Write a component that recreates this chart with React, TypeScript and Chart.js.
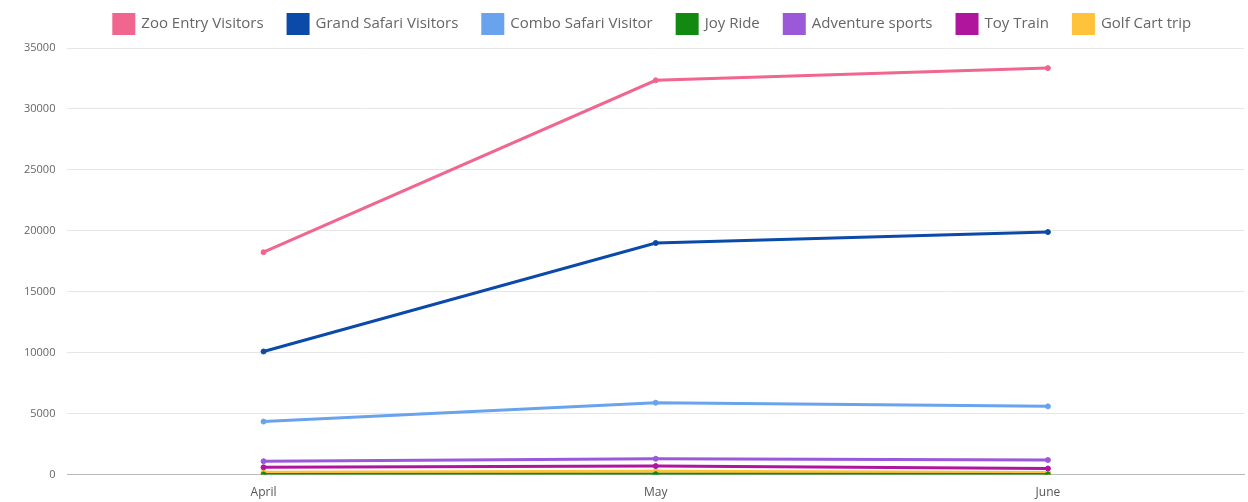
import React, { useEffect, useRef } from "react";
import { Chart, registerables } from "chart.js";

Chart.register(...registerables);

const months = ["April", "May", "June"];
const zooEntry = [18250, 32350, 33350];
const grandSafari = [10100, 19000, 19900];
const comboSafari = [4350, 5900, 5600];
const joyRide = [10, 30, 10];
const adventureSports = [1100, 1300, 1200];
const toyTrain = [600, 700, 500];
const golfCart = [200, 280, 180];
const yTicks = [0, 5000, 10000, 15000, 20000, 25000, 30000, 35000];

const seriesNames = [
  "Zoo Entry Visitors",
  "Grand Safari Visitors",
  "Combo Safari Visitor",
  "Joy Ride",
  "Adventure sports",
  "Toy Train",
  "Golf Cart trip",
];
const seriesColors = ["#F0668F", "#0B4AA8", "#69A3EE", "#128A12", "#9B59D9", "#B0159E", "#FFC23A"];
const seriesValues = [zooEntry, grandSafari, comboSafari, joyRide, adventureSports, toyTrain, golfCart];

const legendFit = {
  id: "legendFit",
  beforeLayout(chart: any) {
    const lg = chart.legend;
    if (lg && !lg._patched) {
      const orig = lg.fit;
      lg.fit = function () {
        orig.call(this);
        this.height = 58;
      };
      lg._patched = true;
    }
  },
  afterLayout(chart: any) {
    const lg = chart.legend;
    if (lg) {
      lg.left += 24;
      lg.right += 24;
    }
  },
};

export default function App() {
  const ref = useRef<HTMLCanvasElement | null>(null);
  useEffect(() => {
    if (!ref.current) return;
    const chart = new Chart(ref.current, {
      type: "line",
      data: {
        labels: months,
        datasets: seriesNames.map((name, i) => ({
          label: name,
          data: seriesValues[i],
          borderColor: seriesColors[i],
          backgroundColor: seriesColors[i],
          borderWidth: 3,
          pointRadius: 2.5,
          pointHoverRadius: 3,
          pointBorderWidth: 1,
          tension: 0,
          fill: false,
        })),
      },
      plugins: [legendFit],
      options: {
        animation: false,
        responsive: false,
        maintainAspectRatio: false,
        layout: { padding: { left: 12, right: 3, top: -10, bottom: -9 } },
        plugins: {
          tooltip: { enabled: false },
          legend: {
            position: "top",
            labels: {
              boxWidth: 20,
              boxHeight: 19,
              padding: 24.5,
              color: "#666",
              font: { family: "Open Sans", size: 15 },
            },
          },
        },
        scales: {
          x: {
            offset: true,
            grid: { display: false, drawTicks: false },
            border: { display: true, color: "#bbb" },
            ticks: { color: "#555", font: { family: "Open Sans", size: 12 }, padding: 11 },
          },
          y: {
            min: 0,
            max: 35000,
            afterBuildTicks: (axis: any) => {
              axis.ticks = yTicks.map((v) => ({ value: v }));
            },
            grid: { color: "#e6e6e6", drawTicks: false },
            border: { display: false },
            ticks: {
              color: "#666",
              font: { family: "Open Sans", size: 11 },
              padding: 12,
              callback: (v: any) => String(v),
            },
          },
        },
      },
    });
    return () => chart.destroy();
  }, []);
  return (
    <div style={{ position: "fixed", left: 0, top: 0, width: 1248, height: 502, background: "#fff" }}>
      <canvas ref={ref} width={1248} height={502} style={{ width: 1248, height: 502 }} />
    </div>
  );
}
